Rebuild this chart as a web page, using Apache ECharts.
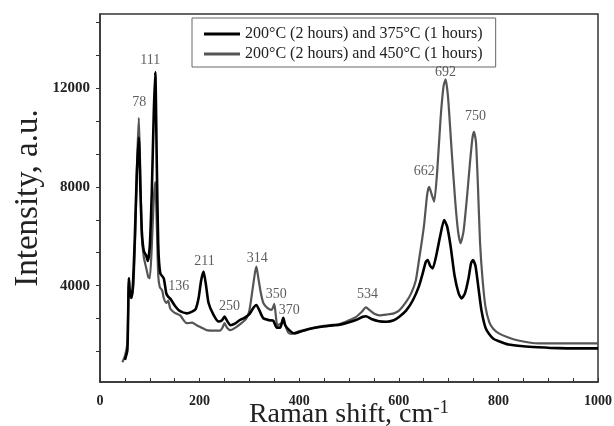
<!DOCTYPE html>
<html>
<head>
<meta charset="utf-8">
<script src="https://cdn.jsdelivr.net/npm/echarts@6/dist/echarts.min.js"></script>
<style>html,body{margin:0;padding:0;background:#fff;}#c{width:614px;height:426px;}</style>
</head>
<body>
<div id="c"></div>
<script>
// Series names
var seriesNames = ['200°C (2 hours) and 375°C (1 hours)', '200°C (2 hours) and 450°C (1 hours)'];

// Raman shift (cm-1) / intensity pairs
var shift375 = [50,55,58,60,63,66,70,74,78,81,84,88,93,96,100,104,108,111,114,117,121,128,133,137,142,150,160,174,185,192,198,203,208,213,218,228,238,245,250,255,262,270,281,290,300,308,314,320,328,340,348,355,362,368,372,380,390,401,420,441,461,481,500,515,528,534,545,560,575,590,601,615,628,640,648,654,658,663,668,675,683,691,697,704,712,720,726,733,740,745,749,754,760,766,774,781,790,801,820,850,880,920,960,1000];
var int375 = [1000,1400,4300,3700,3500,4000,6000,8600,10000,8000,6200,5400,5200,5000,5600,7800,11000,12650,9000,5600,4500,4300,3700,3550,3450,3200,2980,2880,2950,3050,3500,4200,4570,4000,3300,2820,2550,2600,2750,2580,2400,2450,2610,2700,2850,3100,3220,3000,2680,2600,2580,2300,2300,2700,2400,2200,2070,2130,2250,2330,2380,2420,2520,2620,2740,2760,2650,2560,2540,2600,2740,3000,3400,3950,4500,4950,5040,4800,4700,5200,6000,6660,6400,5600,4400,3700,3480,3700,4300,4900,5040,4800,3900,3000,2300,2050,1850,1750,1620,1550,1510,1470,1460,1460];

var shift450 = [45,50,55,58,60,63,67,71,75,78,81,84,88,93,97,100,104,108,111,114,117,120,125,128,133,137,141,150,161,168,174,185,194,204,214,230,241,246,250,255,262,272,282,294,300,306,311,314,318,323,328,336,344,347,350,353,356,362,368,372,378,385,401,420,441,461,481,500,515,526,534,542,552,561,575,590,601,615,625,634,641,647,651,657,661,666,671,677,684,690,694,699,706,713,719,724,730,737,743,748,751,755,759,763,768,774,782,790,801,820,840,868,900,940,1000];
var int450 = [900,1150,1700,4300,3700,3500,4000,6200,9300,10800,8500,6000,5150,4700,4350,4300,5600,7500,8200,6500,4400,3950,3800,3500,3300,3400,3080,2900,2800,2600,2480,2500,2400,2300,2200,2180,2180,2300,2480,2300,2200,2300,2450,2680,3000,3800,4500,4770,4300,3700,3300,3100,3020,3100,3260,2800,2400,2450,2540,2400,2100,2050,2160,2250,2340,2400,2450,2600,2750,2950,3120,3000,2850,2800,2830,2880,3000,3350,3700,4200,5100,5900,6500,7700,8000,7700,7400,8600,10800,12100,12350,11600,9500,7500,6200,5720,6200,7600,9000,10000,10230,9800,8000,5800,4300,3150,2500,2250,2070,1900,1780,1680,1660,1660,1660];

// Peak annotations (text anchored in data space)
var annText = ['78','111','136','211','250','314','350','370','534','662','692','750'];
var annX    = [79, 101, 158, 210, 260, 316, 354, 380, 537, 651, 694, 754];
var annY    = [11420, 13110, 3990, 4970, 3180, 5110, 3660, 3020, 3660, 8640, 12640, 10840];

// Axis ticks / labels
var xLabels = [0, 200, 400, 600, 800, 1000];
var xTicks = [0,50,100,150,200,250,300,350,400,450,500,550,600,650,700,750,800,850,900,950,1000];
var yLabels = [4000, 8000, 12000];
var yTicks = [1333.33,2666.67,4000,5333.33,6666.67,8000,9333.33,10666.67,12000,13333.33,14666.67];

function pairs(xs, ys){ return xs.map(function(x,i){ return [x, ys[i]]; }); }
function plain(v){ return String(Math.round(v)); }

var serif = '"Liberation Serif", "DejaVu Serif", serif';
var chart = echarts.init(document.getElementById('c'), null, {renderer:'canvas'});
chart.setOption({
  animation: false,
  backgroundColor: '#fff',
  grid: {left: 100, right: 16, top: 14, bottom: 44, show: true, borderColor: '#333', borderWidth: 1.5,
         containLabel: false, outerBoundsMode: 'none'},
  legend: {
    data: [
      {name: seriesNames[0], icon: 'rect', itemStyle: {color: '#000'}},
      {name: seriesNames[1], icon: 'rect', itemStyle: {color: '#555'}}
    ],
    orient: 'vertical',
    left: 192, top: 18,
    itemWidth: 36, itemHeight: 3, itemGap: 4,
    padding: [8, 13, 5, 12],
    borderColor: '#666', borderWidth: 1,
    textStyle: {fontFamily: serif, fontSize: 16, color: '#222', lineHeight: 14}
  },
  xAxis: {
    type: 'value', min: 0, max: 1000,
    name: 'Raman shift, cm{sup|-1}',
    nameLocation: 'middle', nameGap: 17, nameMoveOverlap: false,
    nameTextStyle: {fontFamily: serif, fontSize: 28, color: '#222', lineHeight: 32,
      rich: {sup: {fontFamily: serif, fontSize: 19, color: '#222', verticalAlign: 'top', lineHeight: 18}}},
    axisLine: {lineStyle: {color: '#333', width: 1.5}},
    axisTick: {inside: true, length: 4, customValues: xTicks, lineStyle: {color: '#333', width: 1}},
    axisLabel: {customValues: xLabels, formatter: plain, fontFamily: serif, fontWeight: 'bold', fontSize: 14, color: '#222', margin: 12},
    splitLine: {show: false}
  },
  yAxis: {
    type: 'value', min: 100, max: 15000,
    name: 'Intensity, a.u.',
    nameLocation: 'middle', nameGap: 55, nameRotate: 90, nameMoveOverlap: false,
    nameTextStyle: {fontFamily: serif, fontSize: 33, color: '#222'},
    axisLine: {show: true, lineStyle: {color: '#333', width: 1.5}},
    axisTick: {show: true, inside: false, length: 4, customValues: yTicks, lineStyle: {color: '#333', width: 1}},
    axisLabel: {customValues: yLabels, formatter: plain, fontFamily: serif, fontWeight: 'bold', fontSize: 15, color: '#222', margin: 10},
    splitLine: {show: false}
  },
  series: [
    {
      name: seriesNames[0], type: 'line', data: pairs(shift375, int375),
      showSymbol: false, symbol: 'none', smooth: 0.2, z: 3,
      lineStyle: {color: '#000', width: 2.6}, itemStyle: {color: '#000'}
    },
    {
      name: seriesNames[1], type: 'line', data: pairs(shift450, int450),
      showSymbol: false, symbol: 'none', smooth: 0.2, z: 2,
      lineStyle: {color: '#555', width: 2.2}, itemStyle: {color: '#555'}
    },
    {
      name: 'peaks', type: 'scatter', symbolSize: 0, silent: true, z: 5,
      data: annX.map(function(x,i){ return {value: [x, annY[i]], name: annText[i]}; }),
      label: {show: true, position: 'inside', formatter: '{b}', fontFamily: serif, fontSize: 14, color: '#333'}
    }
  ]
});
</script>
</body>
</html>
